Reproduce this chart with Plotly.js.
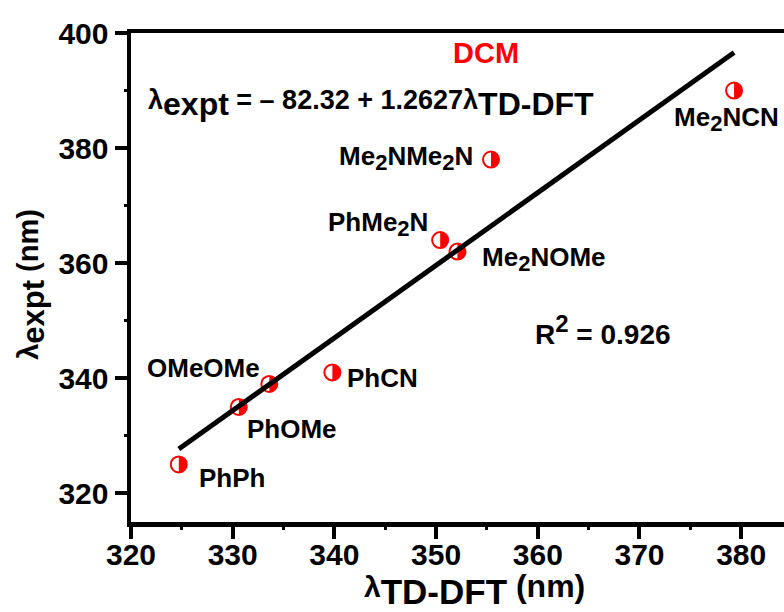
<!DOCTYPE html>
<html>
<head>
<meta charset="utf-8">
<script src="https://cdn.plot.ly/plotly-3.0.1.min.js"></script>
<style>
  html, body { margin: 0; padding: 0; background: #fff; overflow: hidden; }
  #chart { width: 820px; height: 612px; }
</style>
</head>
<body>
<div id="chart"></div>
<script>
// Compounds and their absorption maxima (nm)
const compounds = ['PhPh', 'PhOMe', 'OMeOMe', 'PhCN', 'PhMe2N', 'Me2NOMe', 'Me2NMe2N', 'Me2NCN'];
const lambdaTDDFT = [324.7, 330.6, 333.6, 339.8, 350.4, 352.1, 355.4, 379.3];
const lambdaExpt = [325, 335, 339, 341, 364, 362, 378, 390];

// Linear fit reported on the chart
const fitIntercept = -82.32;
const fitSlope = 1.2627;
const rSquared = 0.926;

// Rich-text labels for the points
const sub2 = '<sub><span style="font-size:22px">2</span></sub>';
const pointLabels = [
  'PhPh', 'PhOMe', 'OMeOMe', 'PhCN',
  'PhMe' + sub2 + 'N',
  'Me' + sub2 + 'NOMe',
  'Me' + sub2 + 'NMe' + sub2 + 'N',
  'Me' + sub2 + 'NCN'
];
// label offsets from each point, in pixels
const labelDx = [53, 53, -66, 50, -62, 87, -85, -8];
const labelDy = [-14, -22, 16, -6, 16, -7, 2, -28];

const xTicks = [320, 330, 340, 350, 360, 370, 380];
const yTicks = [320, 340, 360, 380, 400];

const RED = '#ff0000';
const FONT = 'Liberation Sans, Arial, Helvetica, sans-serif';

// Fit line across the measured range
const fitX = [Math.min(...lambdaTDDFT), Math.max(...lambdaTDDFT)];
const fitY = fitX.map(x => fitIntercept + fitSlope * x);

const markers = {
  x: lambdaTDDFT, y: lambdaExpt, type: 'scatter', mode: 'markers',
  marker: { symbol: 'circle', size: 16, color: 'rgba(255,255,255,0)', line: { color: RED, width: 2 } },
  hoverinfo: 'skip', showlegend: false
};
const fitLine = {
  x: fitX, y: fitY, type: 'scatter', mode: 'lines',
  line: { color: '#000', width: 5 }, hoverinfo: 'skip', showlegend: false
};

// Right half of each marker filled red
const r = 8, k = 0.5523 * r;
const halfDisk = `M0,${-r} C${k},${-r} ${r},${-k} ${r},0 C${r},${k} ${k},${r} 0,${r} Z`;
const shapes = lambdaTDDFT.map((x, i) => ({
  type: 'path', xref: 'x', yref: 'y', xsizemode: 'pixel', ysizemode: 'pixel',
  xanchor: x, yanchor: lambdaExpt[i], path: halfDisk,
  fillcolor: RED, line: { width: 0 }, layer: 'below'
}));

const labelFont = { family: FONT, size: 26, color: '#000', weight: 'bold' };
const annotations = lambdaTDDFT.map((x, i) => ({
  x: x, y: lambdaExpt[i], xref: 'x', yref: 'y', text: pointLabels[i],
  showarrow: false, xanchor: 'center', yanchor: 'middle',
  xshift: labelDx[i], yshift: labelDy[i], font: labelFont
}));

annotations.push({
  x: 354.9, y: 396.5, xref: 'x', yref: 'y', text: 'DCM', showarrow: false,
  font: { family: FONT, size: 29, color: RED, weight: 'bold' }
});
annotations.push({
  x: 321.5, y: 387.8, xref: 'x', yref: 'y', xanchor: 'left', yanchor: 'middle', showarrow: false,
  text: '<span style="font-size:27px">λ</span><sub><span style="font-size:32px">expt</span></sub> = – 82.32 + 1.2627<span style="font-size:27px">λ</span><sub><span style="font-size:32px">TD-DFT</span></sub>',
  font: { family: FONT, size: 27, color: '#000', weight: 'bold' }
});
annotations.push({
  x: 359.55, y: 348.3, xref: 'x', yref: 'y', xanchor: 'left', yanchor: 'middle', showarrow: false,
  text: 'R<sup><span style="font-size:24px">2</span></sup> = ' + rSquared.toFixed(3),
  font: { family: FONT, size: 28, color: '#000', weight: 'bold' }
});

// Axis titles
annotations.push({
  x: 0.498, y: 0, xref: 'paper', yref: 'paper', xanchor: 'center', yanchor: 'top',
  yshift: -44, showarrow: false,
  text: '<span style="font-size:30px">λ</span><sub><span style="font-size:35px">TD-DFT</span></sub> (nm)',
  font: { family: FONT, size: 32, color: '#000', weight: 'bold' }
});
annotations.push({
  x: 0, y: 0.485, xref: 'paper', yref: 'paper', xanchor: 'center', yanchor: 'middle',
  xshift: -99, textangle: -90, showarrow: false,
  text: '<span style="font-size:29px">λ</span><sub><span style="font-size:31px">expt</span></sub> (nm)',
  font: { family: FONT, size: 29, color: '#000', weight: 'bold' }
});

const axisCommon = {
  showgrid: false, zeroline: false, showline: true, linecolor: '#000', linewidth: 4.5,
  mirror: true, ticks: 'outside', ticklen: 12, tickwidth: 4, tickcolor: '#000',
  tickfont: { family: FONT, size: 30, color: '#000', weight: 'bold' },
  minor: { ticks: 'outside', ticklen: 3, tickwidth: 3, tickcolor: '#000' }
};

const layout = {
  width: 820, height: 612,
  margin: { l: 131, r: 0, t: 33, b: 90 },
  paper_bgcolor: '#fff', plot_bgcolor: '#fff',
  showlegend: false,
  xaxis: Object.assign({}, axisCommon, {
    range: [320, 387.75], tickvals: xTicks, ticktext: xTicks.map(String),
    ticklabelstandoff: -10,
    minor: Object.assign({}, axisCommon.minor, { dtick: 5, tick0: 325 })
  }),
  yaxis: Object.assign({}, axisCommon, {
    range: [315, 400], tickvals: yTicks, ticktext: yTicks.map(String),
    minor: Object.assign({}, axisCommon.minor, { dtick: 10, tick0: 310 })
  }),
  shapes: shapes,
  annotations: annotations
};

Plotly.newPlot('chart', [markers, fitLine], layout, { staticPlot: true, displayModeBar: false });
</script>
</body>
</html>
